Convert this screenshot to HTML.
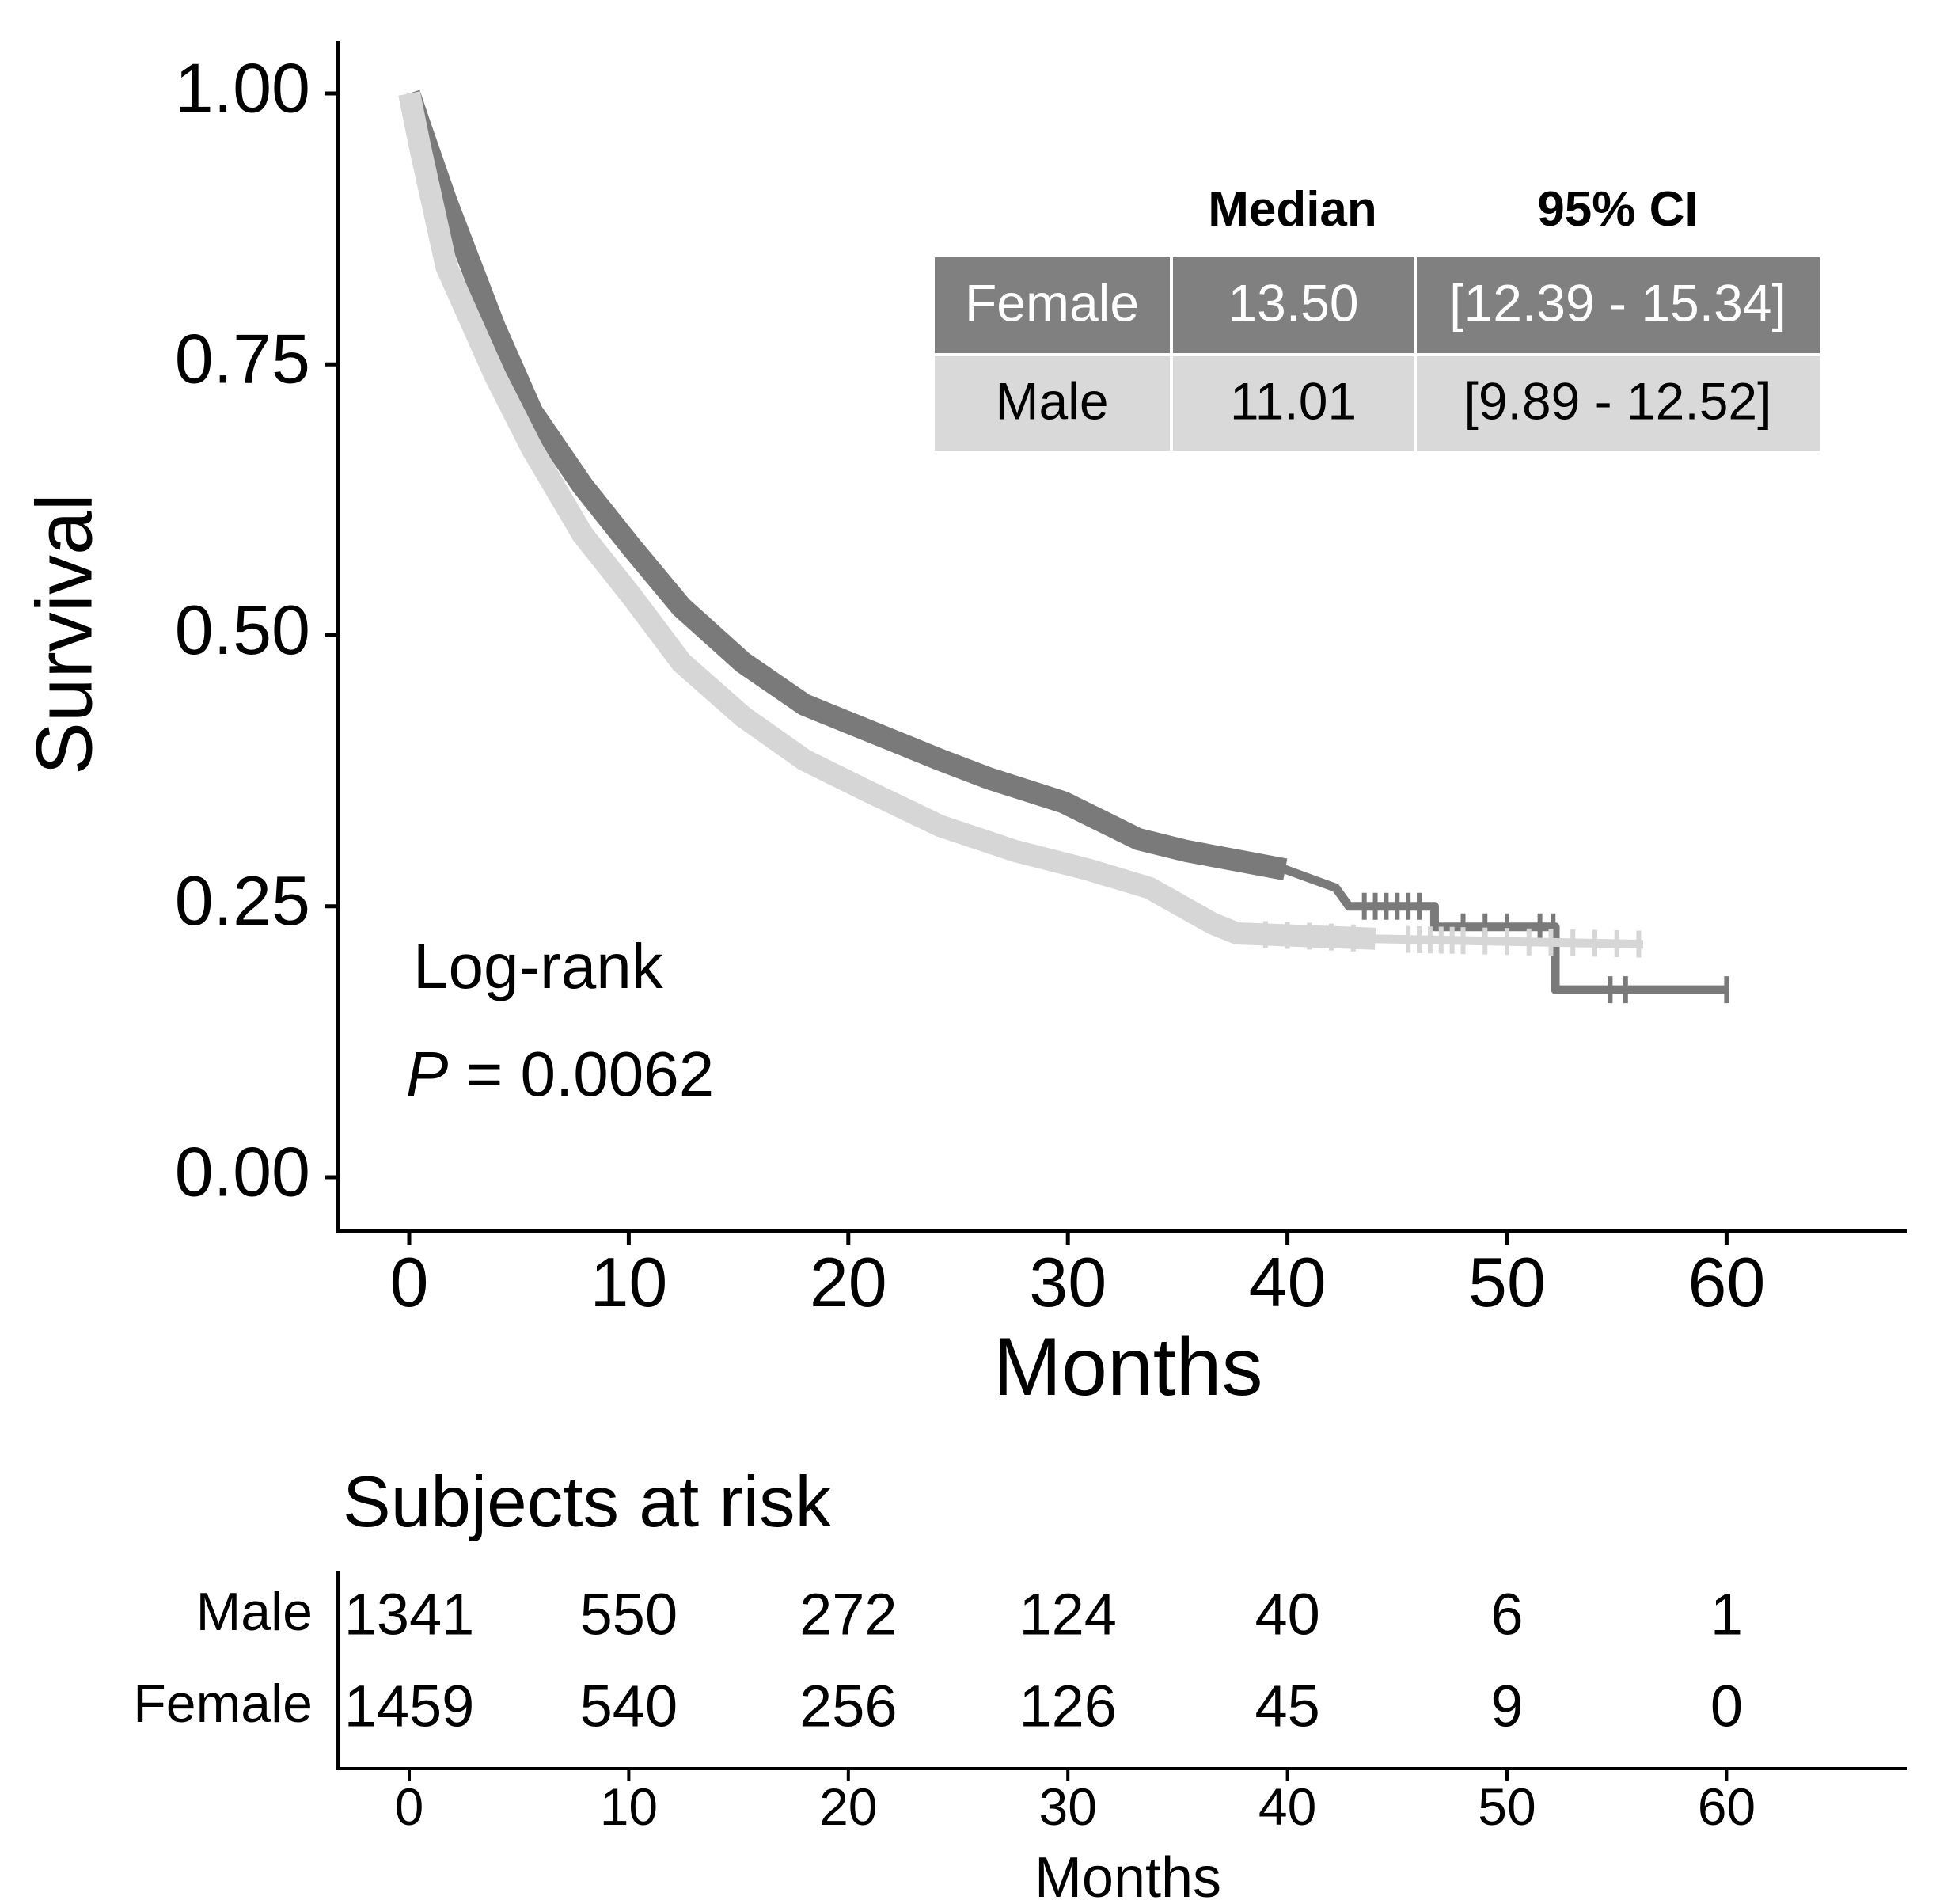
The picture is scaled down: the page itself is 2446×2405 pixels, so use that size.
<!DOCTYPE html>
<html><head><meta charset="utf-8"><style>
html,body{margin:0;padding:0;background:#fff}
svg{display:block;font-family:"Liberation Sans",Arial,sans-serif}
</style></head><body>
<svg id="chart" width="2446" height="2405" viewBox="0 0 2446 2405" xmlns="http://www.w3.org/2000/svg">
<g id="curves"></g>
<g id="axes"></g>
<text x="89" y="801" font-size="100" text-anchor="middle" dominant-baseline="middle" transform="rotate(-90 89 801)">Survival</text>
<text x="1425" y="1762" font-size="104" text-anchor="middle">Months</text>
<text x="522" y="1248" font-size="80">Log-rank</text>
<text x="513" y="1384" font-size="80"><tspan font-style="italic">P</tspan> = 0.0062</text>
<g>
<text x="1633" y="285" font-size="62" font-weight="bold" text-anchor="middle">Median</text>
<text x="2044" y="285" font-size="62" font-weight="bold" text-anchor="middle">95% CI</text>
<rect x="1181" y="325" width="297" height="121" fill="#808080"/>
<rect x="1482" y="325" width="304" height="121" fill="#808080"/>
<rect x="1790" y="325" width="509" height="121" fill="#808080"/>
<rect x="1181" y="450" width="297" height="120" fill="#d9d9d9"/>
<rect x="1482" y="450" width="304" height="120" fill="#d9d9d9"/>
<rect x="1790" y="450" width="509" height="120" fill="#d9d9d9"/>
<g font-size="66" text-anchor="middle" dominant-baseline="middle">
<text x="1329" y="388" fill="#fff">Female</text>
<text x="1634" y="388" fill="#fff">13.50</text>
<text x="2044" y="388" fill="#fff">[12.39 - 15.34]</text>
<text x="1329" y="512" fill="#000">Male</text>
<text x="1634" y="512" fill="#000">11.01</text>
<text x="2044" y="512" fill="#000">[9.89 - 12.52]</text>
</g></g>
<text x="433" y="1928" font-size="91">Subjects at risk</text>
<g id="risk"></g>
<text x="1425" y="2396" font-size="72" text-anchor="middle">Months</text>
</svg>
<script>
const femaleTimes=[0,0.5,1.7,3.9,5.6,7.9,10.1,12.4,15.2,18,20.8,24.2,26.4,29.8,33.2,35.4,39.9,42.2,42.8,46.7,46.7,52.2,52.2,60];
const femaleSurv=[1,0.97,0.90,0.784,0.706,0.638,0.582,0.526,0.475,0.436,0.413,0.385,0.368,0.346,0.312,0.301,0.284,0.267,0.25,0.25,0.231,0.231,0.173,0.173];
const maleTimes=[0,0.5,1.7,3.9,5.6,7.9,10.1,12.4,15.2,18,20.8,24.2,27.6,30.9,33.7,36.6,37.7,44,56.2];
const maleSurv=[1,0.95,0.84,0.74,0.672,0.593,0.537,0.475,0.425,0.385,0.357,0.324,0.301,0.284,0.267,0.234,0.225,0.22,0.215];
const femaleCensor=[43.5,44,44.5,45,45.5,46,48,49,50,51.5,52.1,54.7,55.4,60];
const maleCensor=[39,40,41,42,43,45.5,46,46.5,47,47.5,48,49,50,51,52,53,54,55,56];
const xTicks=[0,10,20,30,40,50,60];
const yTicks=[0,0.25,0.5,0.75,1];
const yTickLabels=["0.00","0.25","0.50","0.75","1.00"];
const riskGroups=["Male","Female"];
const riskMale=[1341,550,272,124,40,6,1];
const riskFemale=[1459,540,256,126,45,9,0];

const NS="http://www.w3.org/2000/svg";
const X=t=>517+t*27.74;
const Y=s=>1487-s*1369;
const RY=[2045,2161];
function mk(tag,attrs,parent){const e=document.createElementNS(NS,tag);for(const k in attrs)e.setAttribute(k,attrs[k]);parent.appendChild(e);return e;}
function survAt(ts,ss,t){let v=ss[0];for(let i=0;i<ts.length;i++){if(ts[i]<=t)v=ss[i];}
 for(let i=0;i<ts.length-1;i++){if(t>=ts[i]&&t<ts[i+1]){if(ts[i+1]===ts[i])return ss[i];return ss[i]+(ss[i+1]-ss[i])*(t-ts[i])/(ts[i+1]-ts[i]);}}return v;}
const curves=document.getElementById('curves');
function drawSeries(ts,ss,cens,color,denseEnd,name){
 const g=mk('g',{},curves);
 
 
 let d='';ts.forEach((t,i)=>{d+=(i?'L':'M')+X(t)+' '+Y(ss[i]);});
 const p=mk('path',{d:d,fill:'none',stroke:color,'stroke-width':11,'stroke-linejoin':'round'},g);
 
 
 let d2='';let first=true;ts.forEach((t,i)=>{if(t<=denseEnd){d2+=(first?'M':'L')+X(t)+' '+Y(ss[i]);first=false;}});
 const p2=mk('path',{d:d2,fill:'none',stroke:color,'stroke-width':28,'stroke-linejoin':'round'},g);
 
 
 cens.forEach(c=>{const y=Y(survAt(ts,ss,c));
  const l=mk('line',{x1:X(c),x2:X(c),y1:y-17,y2:y+17,stroke:color,'stroke-width':6},g);
  
  });
}
drawSeries(femaleTimes,femaleSurv,femaleCensor,'#7a7a7a',42,'female');
drawSeries(maleTimes,maleSurv,maleCensor,'#d6d6d6',44,'male');

const axes=document.getElementById('axes');
let a=mk('line',{x1:427,y1:52,x2:427,y2:1557,stroke:'#000','stroke-width':5},axes);

a=mk('line',{x1:425,y1:1555,x2:2409,y2:1555,stroke:'#000','stroke-width':5},axes);

yTicks.forEach((v,i)=>{
 const t=mk('line',{x1:410,x2:427,y1:Y(v),y2:Y(v),stroke:'#000','stroke-width':5},axes);
 
 const l=mk('text',{x:392,y:Y(v),'font-size':88,'text-anchor':'end','dominant-baseline':'middle'},axes);
 l.textContent=yTickLabels[i];
 
});
xTicks.forEach(v=>{
 const t=mk('line',{x1:X(v),x2:X(v),y1:1555,y2:1572,stroke:'#000','stroke-width':5},axes);
 
 const l=mk('text',{x:X(v),y:1650,'font-size':88,'text-anchor':'middle'},axes);
 l.textContent=v;
 
});

const risk=document.getElementById('risk');
a=mk('line',{x1:427,y1:1984,x2:427,y2:2236,stroke:'#000','stroke-width':4},risk);

a=mk('line',{x1:425,y1:2234,x2:2409,y2:2234,stroke:'#000','stroke-width':4},risk);

riskGroups.forEach((g,i)=>{
 const l=mk('text',{x:395,y:RY[i]-4,'font-size':68,'text-anchor':'end','dominant-baseline':'middle'},risk);
 l.textContent=g;
 
});
[riskMale,riskFemale].forEach((arr,i)=>{
 arr.forEach((n,j)=>{
  const l=mk('text',{x:X(xTicks[j]),y:RY[i],'font-size':74,'text-anchor':'middle','dominant-baseline':'middle'},risk);
  l.textContent=n;
  
 });
});
xTicks.forEach(v=>{
 const t=mk('line',{x1:X(v),x2:X(v),y1:2234,y2:2250,stroke:'#000','stroke-width':4},risk);
 
 const l=mk('text',{x:X(v),y:2305,'font-size':66,'text-anchor':'middle'},risk);
 l.textContent=v;
 
});
</script>
</body></html>
